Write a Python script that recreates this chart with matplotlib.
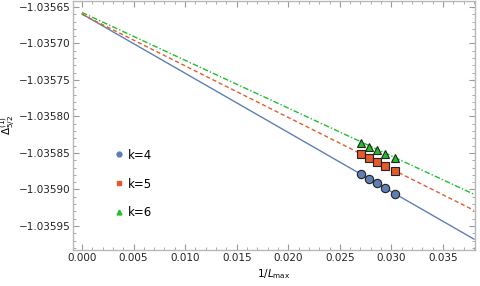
import matplotlib
matplotlib.use('Agg')
import matplotlib.pyplot as plt
import numpy as np
from matplotlib.lines import Line2D
from matplotlib.ticker import MultipleLocator, FuncFormatter

# Data points: 1/L_max for L_max = 37..33
lmax = np.array([37, 36, 35, 34, 33])
x_pts = 1.0 / lmax

y_k4 = [-1.0358788, -1.0358852, -1.0358915, -1.0358984, -1.0359057]
y_k5 = [-1.0358518, -1.0358568, -1.0358627, -1.0358682, -1.0358751]
y_k6 = [-1.0358367, -1.0358414, -1.0358459, -1.0358510, -1.0358562]

# Fitted lines (value at x=0 and at x=0.038)
x_line = [0.0, 0.038]
line_k4 = [-1.0356596, -1.0359680]
line_k5 = [-1.0356600, -1.0359285]
line_k6 = [-1.0356575, -1.0359065]

c_blue = '#5d7fb5'
c_red = '#e55a2b'
c_green = '#1fbf2a'

fig = plt.figure(figsize=[4.81, 2.86], dpi=100)
ax = fig.add_axes([73/481, 1 - 250/286, (475 - 73)/481, 249/286])

ax.plot(x_line, line_k4, '-', color=c_blue, lw=1.0)
ax.plot(x_line, line_k5, '--', color=c_red, lw=1.0, dashes=(3, 2))
ax.plot(x_line, line_k6, '-.', color=c_green, lw=1.0, dashes=(4, 1.5, 1, 1.5))

ax.plot(x_pts, y_k4, 'o', ms=6, mfc=c_blue, mec='#222222', mew=0.8)
ax.plot(x_pts, y_k5, 's', ms=5.8, mfc=c_red, mec='#222222', mew=0.8)
ax.plot(x_pts, y_k6, '^', ms=6, mfc=c_green, mec='#222222', mew=0.8)

ax.set_xlim(-0.00087, 0.0381)
ax.set_ylim(-1.0359829, -1.0356418)

ax.xaxis.set_major_locator(MultipleLocator(0.005))
ax.xaxis.set_minor_locator(MultipleLocator(0.001))
ax.yaxis.set_major_locator(MultipleLocator(0.00005))
ax.yaxis.set_minor_locator(MultipleLocator(0.00001))
ax.xaxis.set_major_formatter(FuncFormatter(lambda v, p: '{:.3f}'.format(abs(v) if abs(v) < 1e-9 else v)))
ax.yaxis.set_major_formatter(FuncFormatter(lambda v, p: '{:.5f}'.format(v).replace('-', '\u2212')))

ax.tick_params(which='both', direction='in', top=True, right=True, colors='#9a9a9a',
               labelcolor='#222222', labelsize=7.5)
ax.tick_params(which='major', length=4, width=0.8, pad=2)
ax.tick_params(which='minor', length=2.2, width=0.6)
for s in ax.spines.values():
    s.set_color('#b8b8b8')
    s.set_linewidth(1.0)

ax.set_xlabel(r'$1/L_{\rm max}$', fontsize=7.5, labelpad=3)
ax.set_ylabel(r'$\Delta^{(1)}_{5/2}$', fontsize=7.5)
ax.yaxis.set_label_coords(-0.137, 0.5)

handles = [Line2D([], [], ls='none', marker='o', ms=3.5, color=c_blue),
           Line2D([], [], ls='none', marker='s', ms=3.5, color=c_red),
           Line2D([], [], ls='none', marker='^', ms=3.5, color=c_green)]
ax.legend(handles, ['k=4', 'k=5', 'k=6'], loc='upper left',
          bbox_to_anchor=(0.07, 0.45), frameon=False, fontsize=8.5,
          labelspacing=1.35, handletextpad=0.2, handlelength=1.2)

plt.savefig('out.png', dpi=100)
